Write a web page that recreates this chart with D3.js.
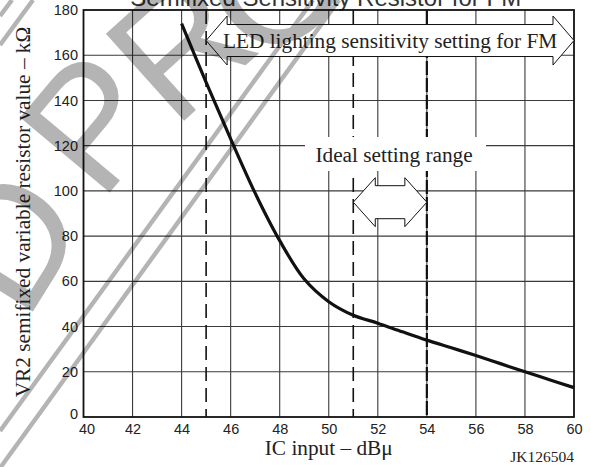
<!DOCTYPE html>
<html><head><meta charset="utf-8">
<script src="https://cdn.jsdelivr.net/npm/d3@7"></script>
<style>body{margin:0;background:#fff} svg{display:block}</style>
</head><body>
<svg id="chart" width="591" height="467"></svg>
<script>
// ---- data ----
const xTicks = [40,42,44,46,48,50,52,54,56,58,60];
const yTicks = [0,20,40,60,80,100,120,140,160,180];
const inputDb = [44,45,46,47,48,49,50,51,52,53,54,55,56,57,58,59,60];
const resistanceK = [174,148,123,99,78,61,51,45,41.5,37.7,34,30.6,27.2,23.6,20,16.5,13];
const markerDb = [45,51,54];
const ledRange = [45,60];
const ledLevel = 166.5;
const ledLabel = "LED lighting sensitivity setting for FM";
const idealRange = [51,54];
const idealLevel = 95;
const idealLabel = "Ideal setting range";
const titleText = "Semifixed Sensitivity Resistor for FM";
const xTitle = "IC input – dBμ";
const yTitle = "VR2 semifixed variable resistor value – kΩ";
const codeText = "JK126504";
const watermarkLetters = ["D","P","R","O"];

// ---- layout ----
const L = 83.5, R = 574, T = 10, B = 417;
const svg = d3.select("#chart");
const x = d3.scaleLinear().domain([40,60]).range([L,R]);
const y = d3.scaleLinear().domain([0,180]).range([B,T]);
const serif = "'Liberation Serif','Times New Roman',serif";
const sans = "'Liberation Sans',Arial,sans-serif";

svg.append("rect").attr("width",591).attr("height",467).attr("fill","#fff");

// title (cut off at top, as in the source)
svg.append("text").attr("x",(L+R)/2 - 3).attr("y",6)
  .attr("text-anchor","middle").attr("font-family",sans).attr("font-size",24)
  .attr("fill","#333").text(titleText);

// grid
const g = svg.append("g");
g.selectAll(".vg").data(xTicks.slice(1,-1)).join("line")
  .attr("x1",d=>x(d)).attr("x2",d=>x(d)).attr("y1",T).attr("y2",B)
  .attr("stroke","#3a3a3a").attr("stroke-width",1.1);
g.selectAll(".hg").data(yTicks.slice(1,-1)).join("line")
  .attr("y1",d=>y(d)).attr("y2",d=>y(d)).attr("x1",L).attr("x2",R)
  .attr("stroke","#3a3a3a").attr("stroke-width",1.1);

// dashed marker lines
g.selectAll(".mk").data(markerDb).join("line")
  .attr("x1",d=>x(d)).attr("x2",d=>x(d)).attr("y1",T).attr("y2",B)
  .attr("stroke","#111")
  .attr("stroke-width",d=>d===54?2.2:1.6)
  .attr("stroke-dasharray",d=>d===54?"14,3":"14,7");

// curve
const line = d3.line().x((d,i)=>x(inputDb[i])).y(d=>y(d)).curve(d3.curveCatmullRom.alpha(0.5));
svg.append("path").datum(resistanceK).attr("d",line)
  .attr("fill","none").attr("stroke","#111").attr("stroke-width",3.2);

// border
svg.append("rect").attr("x",L).attr("y",T).attr("width",R-L).attr("height",B-T)
  .attr("fill","none").attr("stroke","#111").attr("stroke-width",1.8);

// double arrow helper
function dblArrow(x0,x1,yc,head,hs,hh){
  const p = [[x0,yc],[x0+head,yc-hh],[x0+head,yc-hs],[x1-head,yc-hs],[x1-head,yc-hh],[x1,yc],
             [x1-head,yc+hh],[x1-head,yc+hs],[x0+head,yc+hs],[x0+head,yc+hh]];
  return "M"+p.map(d=>d.join(",")).join("L")+"Z";
}

// ideal label box
svg.append("rect").attr("x",305).attr("y",137).attr("width",181).attr("height",34).attr("fill","#fff");
svg.append("text").attr("x",(x(idealRange[0])+x(idealRange[1]))/2+4).attr("y",162)
  .attr("text-anchor","middle").attr("font-family",serif).attr("font-size",21.3)
  .attr("fill","#222").text(idealLabel);
svg.append("path").attr("d",dblArrow(x(idealRange[0]),x(idealRange[1]),y(idealLevel),22,16.5,24.5))
  .attr("fill","#fff").attr("stroke","#111").attr("stroke-width",1);

// LED arrow
svg.append("path").attr("d",dblArrow(x(ledRange[0]),x(ledRange[1]),y(ledLevel),21,16,24.5))
  .attr("fill","#fff").attr("stroke","#111").attr("stroke-width",1);
svg.append("text").attr("x",(x(ledRange[0])+x(ledRange[1]))/2).attr("y",48)
  .attr("text-anchor","middle").attr("font-family",serif).attr("font-size",21.3)
  .attr("fill","#222").text(ledLabel);

// axes labels
const ax = svg.append("g").attr("transform",`translate(0,${B})`)
  .call(d3.axisBottom(x).tickValues(xTicks).tickSize(0).tickPadding(7).tickFormat(d3.format("d")));
ax.select(".domain").remove();
ax.selectAll("text").attr("font-family",sans).attr("font-size",14.5).attr("fill","#222")
  .attr("dx",d=>d===40?3:0);
const ay = svg.append("g").attr("transform",`translate(${L},0)`)
  .call(d3.axisLeft(y).tickValues(yTicks).tickSize(0).tickPadding(5.5).tickFormat(d3.format("d")));
ay.select(".domain").remove();
ay.selectAll("text").attr("font-family",sans).attr("font-size",14.5).attr("fill","#222")
  .attr("dy",d=>d===0?"0.1em":"0.32em");

svg.append("text").attr("x",(L+R)/2).attr("y",455).attr("text-anchor","middle")
  .attr("font-family",serif).attr("font-size",21.3).attr("fill","#222").text(xTitle);
svg.append("text").attr("transform","translate(29.5,212) rotate(-90)").attr("text-anchor","middle")
  .attr("font-family",serif).attr("font-size",21.3).attr("fill","#222").text(yTitle);
svg.append("text").attr("x",R).attr("y",461.5).attr("text-anchor","end")
  .attr("font-family",serif).attr("font-size",15.5).attr("fill","#222").text(codeText);

// watermark (decoration, letters placed along an arc)
const wmPos = [[8,240,-58],[92,122,-50],[180,45,-42],[275,-18,-34]];
const wm = svg.append("g").style("mix-blend-mode","multiply");
wm.selectAll(".wl").data(watermarkLetters).join("text")
  .attr("transform",(d,i)=>`translate(${wmPos[i][0]},${wmPos[i][1]}) rotate(${wmPos[i][2]})`)
  .attr("text-anchor","middle").attr("dominant-baseline","central")
  .attr("font-family",sans).attr("font-size",170)
  .attr("fill","#b4b4b4").text(d=>d);
const stripes = [[0,468,339,0],[0,431,313,0],[0,45,33,0],[0,16,12,0]];
wm.selectAll(".st").data(stripes).join("line")
  .attr("x1",d=>d[0]).attr("y1",d=>d[1]).attr("x2",d=>d[2]).attr("y2",d=>d[3])
  .attr("stroke","#b4b4b4").attr("stroke-width",4.5);
</script>
</body></html>
